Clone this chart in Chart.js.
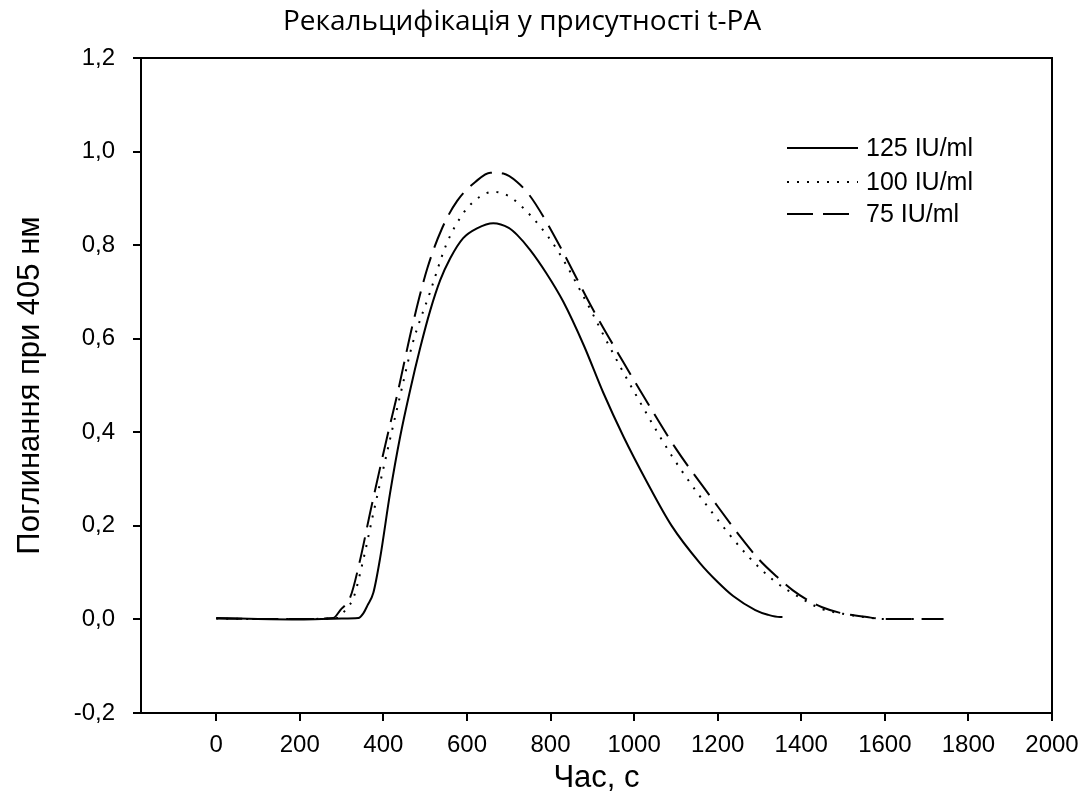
<!DOCTYPE html>
<html>
<head>
<meta charset="utf-8">
<script src="https://cdn.jsdelivr.net/npm/chart.js@4.4.0/dist/chart.umd.min.js"></script>
<style>
  html, body { margin: 0; padding: 0; background: #fff; }
  #wrap { width: 1090px; height: 801px; }
</style>
</head>
<body>
<div id="wrap"><canvas id="chart" width="1090" height="801"></canvas></div>
<script>
// series (time in s, absorbance)
const seriesNames = ['125 IU/ml', '100 IU/ml', '75 IU/ml'];

const time125 = [0, 100, 200, 300, 340, 352, 362, 376, 392, 416, 440, 464, 488, 512, 536, 560, 591, 624, 663, 700, 720, 751, 790, 830, 880, 926, 975, 1030, 1090, 1158, 1200, 1237, 1290, 1320, 1349, 1355];
const abs125 = [0.003, 0.001, 0.0, 0.002, 0.003, 0.013, 0.03, 0.057, 0.13, 0.27, 0.39, 0.49, 0.58, 0.66, 0.725, 0.772, 0.815, 0.836, 0.847, 0.837, 0.822, 0.79, 0.74, 0.68, 0.585, 0.485, 0.39, 0.295, 0.20, 0.12, 0.08, 0.05, 0.02, 0.01, 0.005, 0.005];

const time100 = [0, 100, 200, 290, 313, 328, 350, 376, 421, 445, 470, 512, 550, 591, 630, 663, 700, 734, 775, 816, 888, 940, 998, 1090, 1182, 1270, 1333, 1400, 1450, 1500, 1560, 1600, 1740];
const abs100 = [0.002, 0.001, 0.001, 0.003, 0.025, 0.045, 0.12, 0.227, 0.405, 0.497, 0.59, 0.70, 0.80, 0.868, 0.903, 0.914, 0.905, 0.88, 0.84, 0.79, 0.675, 0.585, 0.49, 0.35, 0.234, 0.138, 0.084, 0.045, 0.022, 0.012, 0.004, 0.001, 0.001];

const time75 = [0, 100, 200, 280, 297, 321, 345, 368, 409, 433, 470, 505, 540, 577, 620, 656, 687, 720, 751, 790, 830, 900, 974, 1014, 1100, 1189, 1254, 1300, 1342, 1380, 1414, 1450, 1493, 1557, 1600, 1740];
const abs75 = [0.002, 0.001, 0.001, 0.003, 0.02, 0.048, 0.13, 0.227, 0.39, 0.48, 0.63, 0.75, 0.835, 0.895, 0.935, 0.955, 0.953, 0.935, 0.905, 0.85, 0.785, 0.665, 0.55, 0.49, 0.365, 0.255, 0.177, 0.127, 0.091, 0.062, 0.042, 0.026, 0.014, 0.005, 0.001, 0.001];

const xTicks = [0, 200, 400, 600, 800, 1000, 1200, 1400, 1600, 1800, 2000];
const yTicks = [-0.2, 0, 0.2, 0.4, 0.6, 0.8, 1.0, 1.2];

function toPoints(xs, ys) {
  return xs.map((x, i) => ({ x: x, y: ys[i] }));
}

const TICK_FONT = { family: 'Liberation Sans', size: 24 };

// top/right frame, title and in-plot legend
const framePlugin = {
  id: 'frame',
  afterDraw(chart) {
    const ctx = chart.ctx;
    const a = chart.chartArea;
    ctx.save();
    ctx.strokeStyle = '#000';
    ctx.lineWidth = 2;
    ctx.strokeRect(a.left, a.top, a.right - a.left, a.bottom - a.top);

    ctx.fillStyle = '#000';
    ctx.font = '28px "Open Sans"';
    ctx.textAlign = 'center';
    ctx.textBaseline = 'middle';
    ctx.fillText('Рекальцифікація у присутності t-PA', 522, 22);

    const rows = [148, 182, 214];
    ctx.font = '25px "Liberation Sans"';
    ctx.textAlign = 'left';
    chart.data.datasets.forEach((ds, i) => {
      ctx.beginPath();
      ctx.lineWidth = ds.borderWidth;
      ctx.setLineDash(ds.borderDash || []);
      ctx.moveTo(787, rows[i]);
      ctx.lineTo(858, rows[i]);
      ctx.stroke();
      ctx.setLineDash([]);
      ctx.fillText(ds.label, 866, rows[i] + 1);
    });
    ctx.restore();
  }
};

new Chart(document.getElementById('chart'), {
  type: 'scatter',
  data: {
    datasets: [
      { label: seriesNames[0], data: toPoints(time125, abs125), borderColor: '#000', borderWidth: 2, borderDash: [] },
      { label: seriesNames[1], data: toPoints(time100, abs100), borderColor: '#000', borderWidth: 2, borderDash: [2, 8] },
      { label: seriesNames[2], data: toPoints(time75, abs75), borderColor: '#000', borderWidth: 2, borderDash: [26, 10] }
    ]
  },
  options: {
    responsive: false,
    animation: false,
    showLine: true,
    elements: { point: { radius: 0 }, line: { tension: 0.3, cubicInterpolationMode: 'monotone' } },
    layout: { padding: { top: 58, right: 38, left: 0, bottom: 0 } },
    plugins: { legend: { display: false }, title: { display: false }, tooltip: { enabled: false } },
    scales: {
      x: {
        type: 'linear',
        min: -180,
        max: 2000,
        afterBuildTicks: (axis) => { axis.ticks = xTicks.map(v => ({ value: v })); },
        afterFit: (axis) => { axis.height = 88; },
        grid: { drawOnChartArea: false, drawTicks: true, tickLength: 8, color: '#000', lineWidth: 2 },
        border: { display: true, color: '#000', width: 2 },
        ticks: { color: '#000', font: TICK_FONT, padding: 10, maxRotation: 0, autoSkip: false,
          callback: (v) => String(v) },
        title: { display: true, text: 'Час, с', color: '#000', font: { family: 'Liberation Sans', size: 31 }, padding: { top: 0, bottom: 4 } }
      },
      y: {
        type: 'linear',
        min: -0.2,
        max: 1.2,
        afterBuildTicks: (axis) => { axis.ticks = yTicks.map(v => ({ value: v })); },
        afterFit: (axis) => { axis.width = 141; },
        grid: { drawOnChartArea: false, drawTicks: true, tickLength: 8, color: '#000', lineWidth: 2 },
        border: { display: true, color: '#000', width: 2 },
        ticks: { color: '#000', font: TICK_FONT, padding: 18, autoSkip: false,
          callback: (v) => v.toFixed(1).replace('.', ',') },
        title: { display: true, text: 'Поглинання при 405 нм', color: '#000', font: { family: 'Liberation Sans', size: 31 }, padding: { top: 12, bottom: 0 } }
      }
    }
  },
  plugins: [framePlugin]
});
</script>
</body>
</html>
